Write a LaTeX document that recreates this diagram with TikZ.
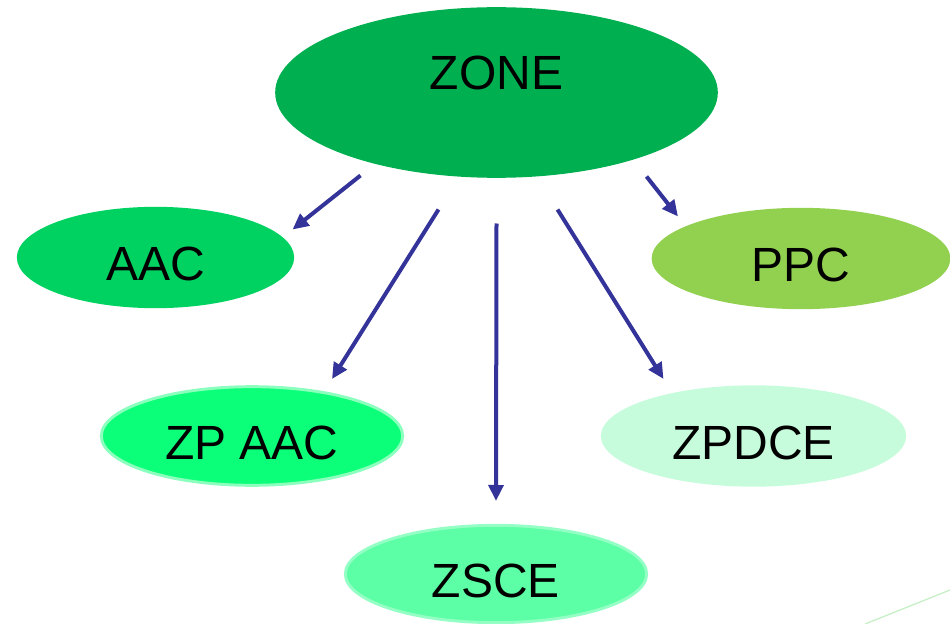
\documentclass[tikz,border=0pt]{standalone}
\usepackage{fontspec}
\setmainfont{Liberation Sans}
\usetikzlibrary{shapes.geometric,arrows.meta,calc}
\definecolor{zonegreen}{HTML}{00B050}
\definecolor{aacgreen}{HTML}{00D262}
\definecolor{ppcgreen}{HTML}{92D050}
\definecolor{zpaacgreen}{HTML}{0CFF78}
\definecolor{zpaacrim}{HTML}{8CFFBE}
\definecolor{zpdcegreen}{HTML}{C6FCDC}
\definecolor{zscegreen}{HTML}{5CFFA5}
\definecolor{zscerim}{HTML}{94FFC4}
\definecolor{linkblue}{HTML}{333399}
\definecolor{faintgreen}{HTML}{C8F0C8}
\begin{document}
\begin{tikzpicture}[x=0.75pt,y=-0.75pt,
        every node/.style={ellipse,inner sep=0pt,font=\fontsize{36}{40}\selectfont,text height=35pt,text depth=0pt},
        link/.style={draw=linkblue,line width=3pt,-{Triangle[length=12pt,width=11pt]}}]
    \useasboundingbox (0,0) rectangle (950,624);
    \draw[faintgreen,line width=1pt] (865,624) -- (950,590);
    \node[fill=zonegreen,minimum width=332pt,minimum height=128pt,text height=26pt,text depth=31pt] (zone) at (496.5,92.5) {ZONE};
    \node[fill=aacgreen,minimum width=208pt,minimum height=76pt] (aac) at (155.5,257.5) {AAC};
    \node[fill=ppcgreen,minimum width=224pt,minimum height=76pt] (ppc) at (801,258.5) {PPC};
    \node[fill=zpaacgreen,draw=zpaacrim,line width=2.2pt,minimum width=226pt,minimum height=74pt] (zpaac) at (252,436) {ZP AAC};
    \node[fill=zpdcegreen,minimum width=229pt,minimum height=76pt] (zpdce) at (753.5,436) {ZPDCE};
    \node[fill=zscegreen,draw=zscerim,line width=2.2pt,minimum width=226pt,minimum height=73pt] (zsce) at (496,574) {ZSCE};
    \draw[link] ($(zone)+(-136,83)$) -- ($(aac)+(137,-28)$);
    \draw[link] ($(zone)+(-58,117)$) -- ($(zpaac)+(80,-57)$);
    \draw[link] ($(zone)+(0,131)$) -- ($(zsce)+(0,-73)$);
    \draw[link] ($(zone)+(61,117)$) -- ($(zpdce)+(-90,-57)$);
    \draw[link] ($(zone)+(150,84)$) -- ($(ppc)+(-123,-42)$);
\end{tikzpicture}
\end{document}
